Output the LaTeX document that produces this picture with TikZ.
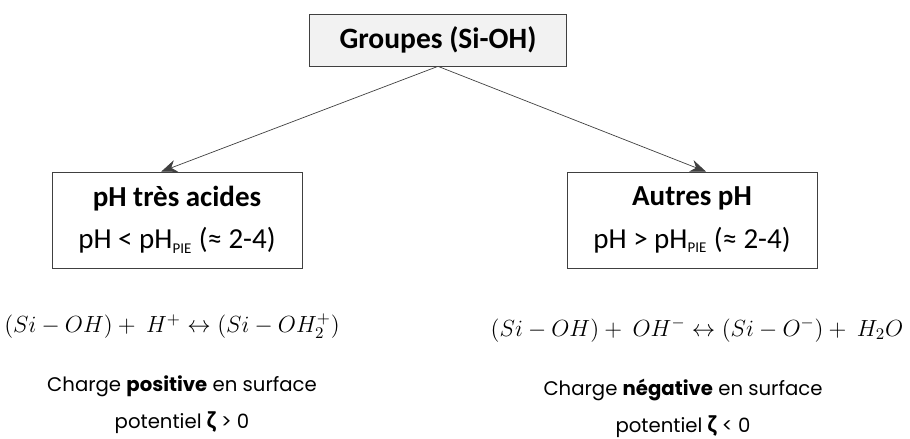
\RequirePackage{fix-cm}
\documentclass[tikz,border=0pt]{standalone}
\usepackage{fontspec}
\setmainfont{Carlito}
\newfontfamily\chargefont{Poppins}
\usetikzlibrary{arrows.meta}
\definecolor{boxline}{HTML}{404040}
\definecolor{boxfill}{HTML}{F2F2F2}
\newcommand{\pie}{\textsubscript{\fontsize{8.5}{9}\selectfont PIE}}
\begin{document}
\begin{tikzpicture}[
    x=0.02cm, y=-0.02cm,
    casebox/.style={rectangle, draw=boxline, minimum width=5cm, minimum height=1.92cm, align=center, font=\fontsize{16.5}{24}\selectfont},
    arrow/.style={-{Stealth[length=9pt, width=7pt]}, thin, draw=boxline},
    reaction/.style={font=\fontsize{13.3}{16}\selectfont},
    chargetxt/.style={align=center, font=\chargefont\fontsize{11.2}{21}\selectfont}
]
\useasboundingbox (0,0) rectangle (910,439);
% Boxes
\node[rectangle, draw=boxline, fill=boxfill, minimum width=5.14cm, minimum height=1.04cm, font=\bfseries\fontsize{16.8}{18}\selectfont] (groupes) at (438,40) {Groupes (Si-OH)};
\node[casebox] (acides) at (177,220) {\textbf{pH très acides}\\pH < pH\pie\ (≈ 2-4)};
\node[casebox] (autres) at (692,220) {\textbf{Autres pH}\\pH > pH\pie\ (≈ 2-4)};

% Arrows
\draw[arrow] (groupes.south) -- ([xshift=-9]acides.north);
\draw[arrow] (groupes.south) -- ([xshift=8]autres.north);

% Reactions
\node[reaction] (reacacide) at (172,326) {$(Si - OH) + \ H^{+} \leftrightarrow (Si - OH_2^{+})$};
\node[reaction] (reacbase) at (697,330) {$(Si - OH) + \ OH^{-} \leftrightarrow (Si - O^{-}) + \ H_2O$};

% Surface charge
\node[chargetxt] (chargepos) at (182,405) {Charge \textbf{positive} en surface\\potentiel {\fontspec{Carlito}\bfseries\fontsize{14}{14}\selectfont ζ} > 0};
\node[chargetxt] (chargeneg) at (683,408) {Charge \textbf{négative} en surface\\potentiel {\fontspec{Carlito}\bfseries\fontsize{14}{14}\selectfont ζ} < 0};
\end{tikzpicture}
\end{document}
